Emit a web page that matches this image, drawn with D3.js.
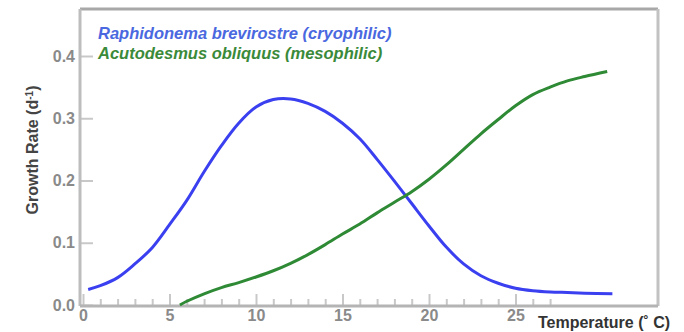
<!DOCTYPE html>
<html>
<head>
<meta charset="utf-8">
<script src="https://cdn.jsdelivr.net/npm/d3@7"></script>
<style>
  body { margin: 0; background: #fff; }
  svg { display: block; font-family: "Liberation Sans", Arial, sans-serif; }
</style>
</head>
<body>
<div id="wrapper"></div>
<script>
// temperature (deg C) and growth rate (1/d)
const cryoTemp = [0.3, 1, 2, 3, 4, 5, 6, 7, 8, 9, 10, 11, 12, 13, 14, 15, 16, 17, 18, 19, 20, 21, 22, 23, 24, 25, 26, 27, 28, 29, 30.6]
const cryoRate = [0.025, 0.031, 0.044, 0.066, 0.092, 0.129, 0.168, 0.214, 0.256, 0.292, 0.318, 0.33, 0.331, 0.324, 0.311, 0.292, 0.267, 0.234, 0.199, 0.163, 0.127, 0.093, 0.066, 0.047, 0.035, 0.027, 0.023, 0.021, 0.02, 0.019, 0.018]

const mesoTemp = [5.6, 6, 7, 8, 9, 10, 11, 12, 13, 14, 15, 16, 17, 18, 19, 20, 21, 22, 23, 24, 25, 26, 27, 28, 29, 30.3]
const mesoRate = [0, 0.006, 0.018, 0.028, 0.036, 0.045, 0.055, 0.067, 0.081, 0.097, 0.114, 0.13, 0.148, 0.165, 0.182, 0.202, 0.225, 0.25, 0.275, 0.298, 0.32, 0.338, 0.35, 0.36, 0.367, 0.375]

const seriesNames = ["Raphidonema brevirostre (cryophilic)", "Acutodesmus obliquus (mesophilic)"]
const seriesColors = ["#3a3ff0", "#2f8a35"]

const yTicks = [0, 0.1, 0.2, 0.3, 0.4]
const xMajorTicks = [0, 5, 10, 15, 20, 25]
const xMinorTicks = d3.range(0, 28)

function drawChart() {
  const dimensions = {
    width: 684,
    height: 332,
    frame: { left: 80, right: 658, top: 9, bottom: 306 }
  }

  const svg = d3.select("#wrapper")
    .append("svg")
      .attr("width", dimensions.width)
      .attr("height", dimensions.height)

  const xScale = d3.scaleLinear()
    .domain([0, 30])
    .range([83, 602])

  const yScale = d3.scaleLinear()
    .domain([0, 0.4])
    .range([305, 56])

  const f = dimensions.frame

  // frame (top and right sides)
  svg.append("line")
      .attr("x1", f.left).attr("x2", f.right)
      .attr("y1", f.top).attr("y2", f.top)
      .attr("stroke", "#a8a8a8").attr("stroke-width", 3)
  svg.append("line")
      .attr("x1", f.right).attr("x2", f.right)
      .attr("y1", f.top).attr("y2", f.bottom)
      .attr("stroke", "#c2c2c2").attr("stroke-width", 3)

  // y axis
  const yAxis = svg.append("g")
      .attr("transform", `translate(${f.left},0)`)
      .call(d3.axisLeft(yScale)
        .tickValues(yTicks)
        .tickFormat(d3.format(".1f"))
        .tickSizeInner(-13)
        .tickSizeOuter(0)
        .tickPadding(5))
  yAxis.select(".domain").remove()
  yAxis.selectAll(".tick line").attr("stroke", "#c8c8c8").attr("stroke-width", 2)
  yAxis.selectAll(".tick text")
      .attr("fill", "#8a8a8a")
      .style("font-size", "16px")
      .style("font-weight", "bold")
  svg.append("line")
      .attr("x1", f.left).attr("x2", f.left)
      .attr("y1", f.top).attr("y2", f.bottom)
      .attr("stroke", "#bdbdbd").attr("stroke-width", 3)

  // x axis: minor then major ticks
  const xMinor = svg.append("g")
      .attr("transform", `translate(0,${f.bottom})`)
      .call(d3.axisBottom(xScale)
        .tickValues(xMinorTicks.filter(d => d % 5 !== 0))
        .tickFormat("")
        .tickSizeInner(-7)
        .tickSizeOuter(0))
  xMinor.select(".domain").remove()
  xMinor.selectAll(".tick line").attr("stroke", "#c8c8c8").attr("stroke-width", 2)

  const xMajor = svg.append("g")
      .attr("transform", `translate(0,${f.bottom})`)
      .call(d3.axisBottom(xScale)
        .tickValues(xMajorTicks)
        .tickFormat(d3.format("d"))
        .tickSizeInner(-12)
        .tickSizeOuter(0)
        .tickPadding(4))
  xMajor.select(".domain").remove()
  xMajor.selectAll(".tick line").attr("stroke", "#c8c8c8").attr("stroke-width", 2)
  xMajor.selectAll(".tick text")
      .attr("fill", "#8a8a8a")
      .style("font-size", "16px")
      .style("font-weight", "bold")

  svg.append("line")
      .attr("x1", f.left).attr("x2", f.right)
      .attr("y1", f.bottom).attr("y2", f.bottom)
      .attr("stroke", "#b4b4b4").attr("stroke-width", 3)

  // axis titles
  svg.append("text")
      .attr("x", xScale(26.3))
      .attr("y", 328)
      .attr("fill", "#333")
      .style("font-size", "16px")
      .style("font-weight", "bold")
      .text("Temperature (˚ C)")

  svg.append("text")
      .attr("transform", `translate(38,${yScale(0.249)}) rotate(-90)`)
      .attr("text-anchor", "middle")
      .attr("fill", "#444")
      .style("font-size", "16px")
      .style("font-weight", "bold")
      .html("Growth Rate (d<tspan dy='-5' font-size='10px'>-1</tspan><tspan dy='5'>)</tspan>")

  // curves
  const lineGenerator = d3.line()
      .x(d => xScale(d[0]))
      .y(d => yScale(d[1]))
      .curve(d3.curveCatmullRom.alpha(0.5))

  const series = [
    d3.zip(cryoTemp, cryoRate),
    d3.zip(mesoTemp, mesoRate)
  ]

  svg.selectAll(".curve")
    .data(series)
    .join("path")
      .attr("class", "curve")
      .attr("d", lineGenerator)
      .attr("fill", "none")
      .attr("stroke", (d, i) => seriesColors[i])
      .attr("stroke-width", 3)

  // legend
  svg.selectAll(".legend")
    .data(seriesNames)
    .join("text")
      .attr("class", "legend")
      .attr("x", 98)
      .attr("y", (d, i) => 39 + i * 20)
      .attr("fill", (d, i) => i === 0 ? "#4a68e0" : "#3a8a3a")
      .style("font-size", "16.5px")
      .style("font-weight", "bold")
      .style("font-style", "italic")
      .text(d => d)
}

drawChart()
</script>
</body>
</html>
